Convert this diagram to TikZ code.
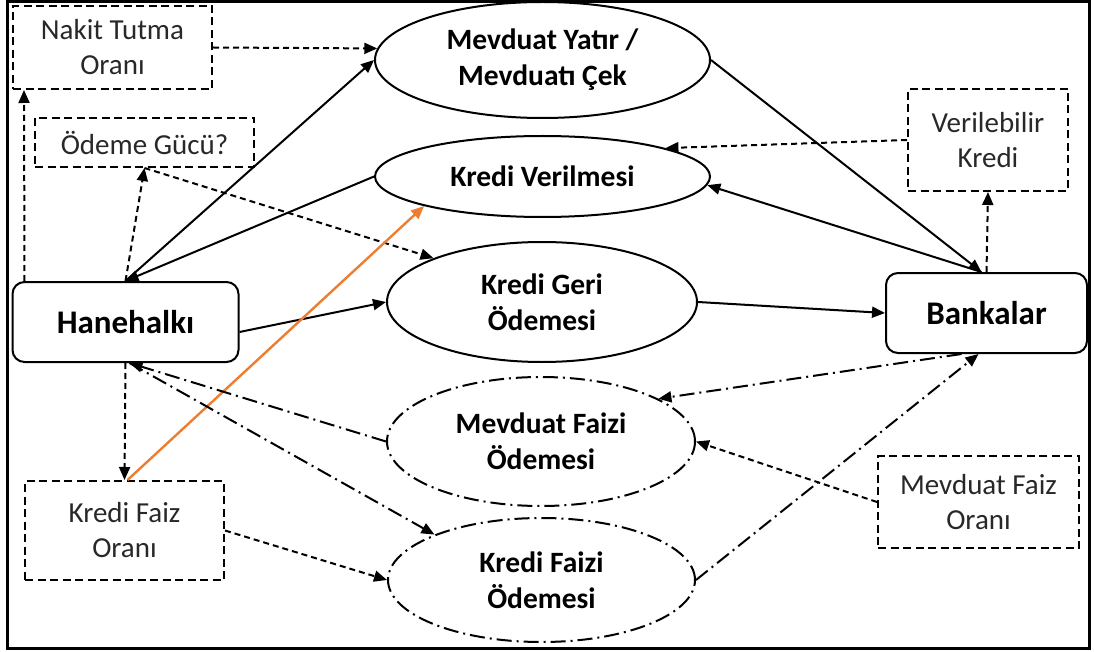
\documentclass[tikz,border=0pt]{standalone}
\usepackage{fontspec}
\setmainfont{Carlito}
\usetikzlibrary{arrows.meta,shapes.geometric}
\definecolor{arrorange}{RGB}{237,125,49}
\definecolor{txtgray}{RGB}{40,40,40}
\begin{document}
\begin{tikzpicture}[x=1pt,y=-1pt,
  txt/.style={font=\fontsize{29}{35}\selectfont, text=txtgray, align=center, inner sep=0pt},
  btxt/.style={font=\fontsize{29.5}{36}\selectfont\bfseries, align=center, inner sep=0pt},
  dbox/.style={txt, draw=black, line width=2pt, dash pattern=on 8pt off 4.5pt},
  rbox/.style={font=\fontsize{33}{38}\selectfont\bfseries, draw, line width=2pt, rounded corners=12pt, inner sep=0pt},
  ell/.style={btxt, ellipse, draw, line width=2pt},
  dell/.style={ell, dash pattern=on 15pt off 5pt on 2pt off 5pt},
  tip/.style={-{Triangle[length=13pt,width=11pt]}},
  sol/.style={tip, line width=2pt},
  dsh/.style={tip, line width=2pt, dash pattern=on 6pt off 4pt},
  dd/.style={tip, line width=2pt, dash pattern=on 15pt off 5pt on 2pt off 5pt},
  org/.style={line width=2.4pt, draw=arrorange, -{Triangle[length=13pt,width=11pt,fill=arrorange]}}
]
\useasboundingbox (0,0) rectangle (1094,652);
\draw[line width=3pt] (7,2) rectangle (1089,648);

\node[dbox, minimum width=199pt, minimum height=83pt] (nakit) at (112.5,47.5) {Nakit Tutma\\Oranı};
\node[dbox, minimum width=219pt, minimum height=49pt] (ode) at (144.5,142.5) {Ödeme Gücü?};
\node[dbox, minimum width=160pt, minimum height=102pt] (ver) at (988,140) {Verilebilir\\Kredi};
\node[dbox, minimum width=201pt, minimum height=92pt] (mfo) at (978.5,502) {Mevduat Faiz\\Oranı};
\node[dbox, minimum width=199pt, minimum height=99pt] (kfo) at (124.5,530.5) {Kredi Faiz\\Oranı};

\node[rbox, minimum width=226pt, minimum height=80pt] (hane) at (125.5,322) {Hanehalkı};
\node[rbox, minimum width=201pt, minimum height=80pt] (bank) at (986.5,313) {Bankalar};

\node[ell, minimum width=335pt, minimum height=116pt] (mev) at (542.5,60) {Mevduat Yatır /\\Mevduatı Çek};
\node[ell, minimum width=335pt, minimum height=81pt] (kv) at (542.5,176.5) {Kredi Verilmesi};
\node[ell, minimum width=310pt, minimum height=120pt] (kg) at (542,302) {Kredi Geri\\Ödemesi};
\node[dell, minimum width=308pt, minimum height=129pt] (mf) at (541,441.5) {Mevduat Faizi\\Ödemesi};
\node[dell, minimum width=307pt, minimum height=124pt] (kf) at (541.5,580) {Kredi Faizi\\Ödemesi};

% upper left
\draw[dsh] (nakit.east) -- (mev.176);
\draw[dsh] ([xshift=13pt]hane.north west) -- ([xshift=12pt]nakit.south west);
\draw[dsh] (hane.north) -- (ode.south);
\draw[sol] (hane.north) -- (mev.west);
\draw[sol] (kv.west) -- (hane.north);
\draw[dsh] (ode.south) -- (kg.158);
\draw[sol] ([yshift=-10pt]hane.east) -- (kg.west);
\draw[sol] (kg.east) -- (bank.west);

% right
\draw[sol] (mev.east) -- ([xshift=-5pt]bank.north);
\draw[sol] ([xshift=-5pt]bank.north) -- (kv.-3);
\draw[dsh] (bank.north) -- (ver.south);
\draw[dsh] (ver.west) -- (kv.13);

% orange
\draw[org] ([xshift=3pt]kfo.north) -- (kv.194);

% lower
\draw[dsh] (hane.south) -- (kfo.north);
\draw[dd] (mf.west) -- ([xshift=4pt]hane.south);
\draw[dd] ([xshift=4pt]hane.south) -- (kf.157);
\draw[dsh] (kfo.east) -- (kf.west);
\draw[dd] ([xshift=-25pt]bank.south) -- (mf.20);
\draw[dsh] (mfo.west) -- (mf.east);
\draw[dd] (kf.east) -- ([xshift=-8pt]bank.south);
\end{tikzpicture}
\end{document}
